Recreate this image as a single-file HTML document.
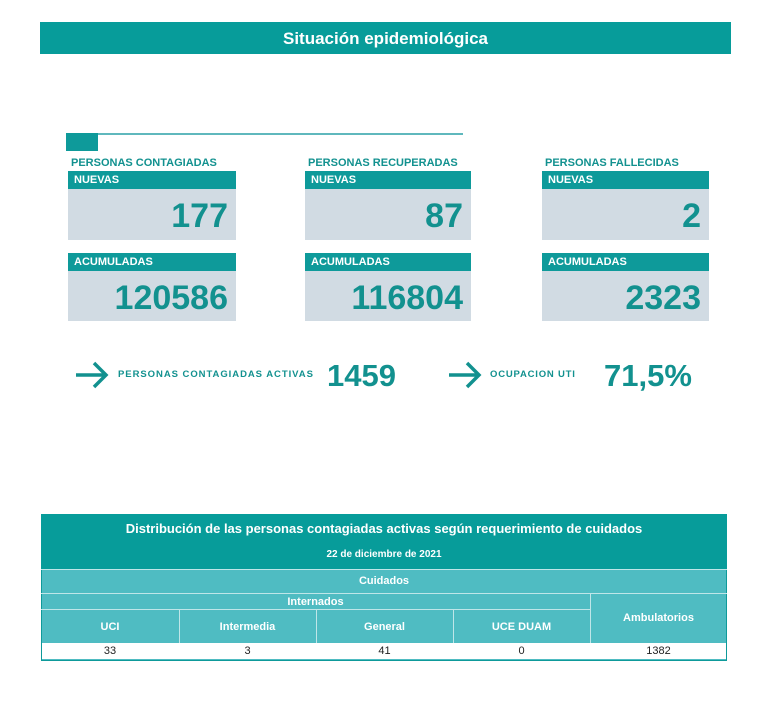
<!DOCTYPE html>
<html><head><meta charset="utf-8"><style>
body{margin:0;width:778px;height:712px;background:#fff;font-family:"Liberation Sans",sans-serif;position:relative;overflow:hidden}
.a{position:absolute}
.hd{background:#0e9a9a;color:#fff;font-weight:bold;font-size:11px;padding-left:6px;line-height:19px;box-sizing:border-box}
.box{background:#d1dbe3;color:#12918f;font-weight:bold;text-align:right;box-sizing:border-box;padding-right:8px}
.lbl{font-size:11px;color:#12918f;font-weight:bold}
.c{position:absolute;color:#fff;font-size:11px;text-align:center}
</style></head><body>
<div class="a" style="left:40px;top:22px;width:691px;height:32px;background:#079c9a;color:#fff;font-weight:bold;font-size:17px;text-align:center;line-height:34px">Situación epidemiológica</div>
<div class="a" style="left:66px;top:133px;width:32px;height:18px;background:#0e9a9a"></div>
<div class="a" style="left:98px;top:133px;width:365px;height:2px;background:#5fb8bd"></div>

<div class="a lbl" style="left:71px;top:157px">PERSONAS CONTAGIADAS</div>
<div class="a hd" style="left:68px;top:171px;width:168px;height:18px">NUEVAS</div>
<div class="a box" style="left:68px;top:189px;width:168px;height:51px;font-size:34px;line-height:54px">177</div>
<div class="a hd" style="left:68px;top:253px;width:168px;height:18px">ACUMULADAS</div>
<div class="a box" style="left:68px;top:271px;width:168px;height:50px;font-size:34px;line-height:54px">120586</div>

<div class="a lbl" style="left:308px;top:157px">PERSONAS RECUPERADAS</div>
<div class="a hd" style="left:305px;top:171px;width:166px;height:18px">NUEVAS</div>
<div class="a box" style="left:305px;top:189px;width:166px;height:51px;font-size:34px;line-height:54px">87</div>
<div class="a hd" style="left:305px;top:253px;width:166px;height:18px">ACUMULADAS</div>
<div class="a box" style="left:305px;top:271px;width:166px;height:50px;font-size:34px;line-height:54px">116804</div>

<div class="a lbl" style="left:545px;top:157px">PERSONAS FALLECIDAS</div>
<div class="a hd" style="left:542px;top:171px;width:167px;height:18px">NUEVAS</div>
<div class="a box" style="left:542px;top:189px;width:167px;height:51px;font-size:34px;line-height:54px">2</div>
<div class="a hd" style="left:542px;top:253px;width:167px;height:18px">ACUMULADAS</div>
<div class="a box" style="left:542px;top:271px;width:167px;height:50px;font-size:34px;line-height:54px">2323</div>

<svg class="a" style="left:74px;top:360px" width="36" height="30"><path d="M2 15H32M20 3L32 15L20 27" stroke="#12918f" stroke-width="3.5" fill="none"/></svg>
<div class="a" style="left:118px;top:369px;font-size:9.5px;font-weight:bold;color:#12918f;letter-spacing:0.95px">PERSONAS CONTAGIADAS ACTIVAS</div>
<div class="a" style="left:327px;top:358px;font-size:31px;font-weight:bold;color:#12918f">1459</div>
<svg class="a" style="left:447px;top:360px" width="36" height="30"><path d="M2 15H32M20 3L32 15L20 27" stroke="#12918f" stroke-width="3.5" fill="none"/></svg>
<div class="a" style="left:490px;top:369px;font-size:9.5px;font-weight:bold;color:#12918f;letter-spacing:0.8px">OCUPACION UTI</div>
<div class="a" style="left:604px;top:358px;font-size:31px;font-weight:bold;color:#12918f">71,5%</div>

<div class="a" style="left:41px;top:514px;width:686px;height:147px;border:1px solid #0e9a9a;box-sizing:border-box;background:#4fbcc2"></div>
<div class="a" style="left:41px;top:514px;width:686px;height:55px;background:#079c9a"></div>
<div class="c" style="left:41px;top:521px;width:686px;font-size:13px;font-weight:bold">Distribución de las personas contagiadas activas según requerimiento de cuidados</div>
<div class="c" style="left:41px;top:549px;width:686px;font-size:10px;font-weight:bold">22 de diciembre de 2021</div>
<div class="a" style="left:41px;top:569px;width:686px;height:1px;background:#bfe6e8"></div>
<div class="c" style="left:41px;top:575px;width:686px;font-weight:bold">Cuidados</div>
<div class="a" style="left:41px;top:593px;width:686px;height:1px;background:#bfe6e8"></div>
<div class="c" style="left:41px;top:596px;width:549px;font-weight:bold">Internados</div>
<div class="a" style="left:41px;top:609px;width:549px;height:1px;background:#bfe6e8"></div>
<div class="a" style="left:590px;top:593px;width:1px;height:50px;background:#bfe6e8"></div>
<div class="a" style="left:179px;top:609px;width:1px;height:34px;background:#bfe6e8"></div>
<div class="a" style="left:316px;top:609px;width:1px;height:34px;background:#bfe6e8"></div>
<div class="a" style="left:453px;top:609px;width:1px;height:34px;background:#bfe6e8"></div>
<div class="c" style="left:41px;top:621px;width:138px;font-weight:bold">UCI</div>
<div class="c" style="left:179px;top:621px;width:137px;font-weight:bold">Intermedia</div>
<div class="c" style="left:316px;top:621px;width:137px;font-weight:bold">General</div>
<div class="c" style="left:453px;top:621px;width:137px;font-weight:bold">UCE DUAM</div>
<div class="c" style="left:590px;top:612px;width:137px;font-weight:bold">Ambulatorios</div>
<div class="a" style="left:42px;top:643px;width:684px;height:16px;background:#fff"></div>
<div class="c" style="left:41px;top:645px;width:138px;color:#222">33</div>
<div class="c" style="left:179px;top:645px;width:137px;color:#222">3</div>
<div class="c" style="left:316px;top:645px;width:137px;color:#222">41</div>
<div class="c" style="left:453px;top:645px;width:137px;color:#222">0</div>
<div class="c" style="left:590px;top:645px;width:137px;color:#222">1382</div>
</body></html>
